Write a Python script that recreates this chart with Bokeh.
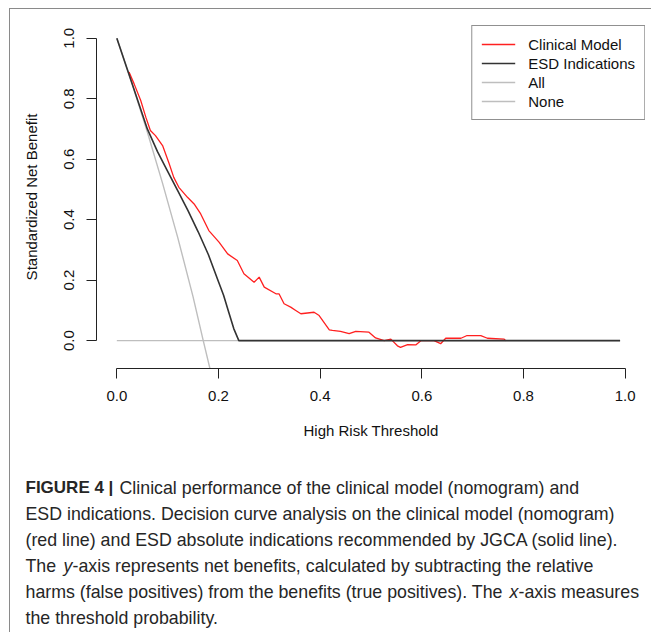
from bokeh.plotting import figure
from bokeh.models import Range1d, Legend, LegendItem, FixedTicker, PrintfTickFormatter, ColumnDataSource
from bokeh.layouts import column
from bokeh.embed import file_html
from bokeh.resources import INLINE
from bokeh.core.properties import value

# ---------------- data ----------------
thr_model = [0.024, 0.034, 0.047, 0.057, 0.066, 0.076, 0.090, 0.103, 0.112, 0.122,
             0.139, 0.152, 0.165, 0.181, 0.201, 0.218, 0.237, 0.250, 0.270, 0.280,
             0.290, 0.313, 0.319, 0.329, 0.342, 0.352, 0.362, 0.388, 0.398, 0.418,
             0.424, 0.440, 0.457, 0.470, 0.496, 0.509, 0.526, 0.539, 0.552, 0.558,
             0.572, 0.588, 0.598, 0.624, 0.637, 0.647, 0.677, 0.689, 0.716, 0.729,
             0.762, 0.765]
nb_model = [0.888, 0.849, 0.794, 0.739, 0.695, 0.678, 0.645, 0.585, 0.540, 0.507,
            0.474, 0.452, 0.419, 0.364, 0.326, 0.287, 0.265, 0.221, 0.193, 0.210,
            0.177, 0.155, 0.155, 0.122, 0.111, 0.100, 0.089, 0.094, 0.083, 0.036,
            0.034, 0.031, 0.023, 0.031, 0.028, 0.009, 0.000, 0.005, -0.017, -0.022,
            -0.013, -0.014, 0.000, 0.000, -0.010, 0.008, 0.008, 0.017, 0.017, 0.008,
            0.005, 0.000]

thr_esd = [0.0, 0.02, 0.04, 0.06, 0.08, 0.10, 0.12, 0.14, 0.16, 0.18, 0.20,
           0.21, 0.22, 0.23, 0.24, 0.99]
nb_esd = [1.0, 0.90, 0.80, 0.70, 0.625, 0.56, 0.495, 0.43, 0.36, 0.285, 0.195,
          0.15, 0.095, 0.04, 0.0, 0.0]

thr_all = [0.0, 0.03, 0.06, 0.09, 0.12, 0.15, 0.17, 0.19]
nb_all = [1.0, 0.85, 0.69, 0.52, 0.34, 0.145, 0.0, -0.14]

thr_none = [0.0, 0.99]
nb_none = [0.0, 0.0]

x_ticks = [0.0, 0.2, 0.4, 0.6, 0.8, 1.0]
y_ticks = [0.0, 0.2, 0.4, 0.6, 0.8, 1.0]
series_names = ["Clinical Model", "ESD Indications", "All", "None"]
x_title = "High Risk Threshold"
y_title = "Standardized Net Benefit"

caption_bold = "FIGURE 4 |"
caption_lines = [
    "Clinical performance of the clinical model (nomogram) and",
    "ESD indications. Decision curve analysis on the clinical model (nomogram)",
    "(red line) and ESD absolute indications recommended by JGCA (solid line).",
    "-axis represents net benefits, calculated by subtracting the relative",
    "-axis measures",
    "the threshold probability.",
]
caption_pre = ["The ", "harms (false positives) from the benefits (true positives). The "]
caption_italic = ["y", "x"]

FONT = "Liberation Sans"
RED = "#ff2020"
DARK = "#333333"
GRAY = "#bebebe"

# ---------------- chart ----------------
W = 641
H1 = 465
H2 = 158

p = figure(width=W, height=H1, x_range=Range1d(-0.04, 1.04), y_range=Range1d(-0.092, 1.042),
           output_backend="svg", toolbar_location=None,
           min_border_left=86, min_border_right=6, min_border_top=16, min_border_bottom=106)
p.frame_align = False
p.xgrid.visible = False
p.ygrid.visible = False
p.outline_line_color = None
p.background_fill_color = "white"
p.border_fill_color = "white"

r_none = p.line(thr_none, nb_none, line_color=GRAY, line_width=1.4)
r_all = p.line(thr_all, nb_all, line_color=GRAY, line_width=1.4)
r_model = p.line(thr_model, nb_model, line_color=RED, line_width=1.3)
r_esd = p.line(thr_esd, nb_esd, line_color=DARK, line_width=1.6)

for ax, ticks in ((p.xaxis, x_ticks), (p.yaxis, y_ticks)):
    ax.ticker = FixedTicker(ticks=ticks)
    ax.formatter = PrintfTickFormatter(format="%.1f")
    ax.bounds = (0, 1)
    ax.major_tick_out = 10
    ax.major_tick_in = 0
    ax.minor_tick_out = 0
    ax.minor_tick_in = 0
    ax.axis_line_color = "#222222"
    ax.major_tick_line_color = "#222222"
    ax.major_label_text_font = FONT
    ax.major_label_text_font_size = "15px"
    ax.major_label_text_color = "#111111"
    ax.axis_label_text_font = FONT
    ax.axis_label_text_font_size = "15px"
    ax.axis_label_text_font_style = "normal"
    ax.axis_label_text_color = "#111111"

p.xaxis.axis_label = x_title
p.yaxis.axis_label = y_title
p.xaxis.major_label_standoff = 12
p.xaxis.axis_label_standoff = 18
p.yaxis.major_label_orientation = "vertical"
p.yaxis.major_label_standoff = 12
p.yaxis.axis_label_standoff = 22

renderers = [r_model, r_esd, r_all, r_none]
legend = Legend(items=[LegendItem(label=n, renderers=[r]) for n, r in zip(series_names, renderers)],
                location="top_right", margin=0, padding=9, spacing=1,
                label_height=18, glyph_height=18, glyph_width=34, label_standoff=13,
                border_line_color="#222222", border_line_width=1,
                background_fill_color="white", background_fill_alpha=1,
                label_text_font=FONT, label_text_font_size="15px",
                label_text_color="#111111")
p.add_layout(legend)

# ---------------- caption (its own small canvas, pixel coordinates) ----------------
c = figure(width=W, height=H2, x_range=Range1d(0, W), y_range=Range1d(H2, 0),
           output_backend="svg", toolbar_location=None, min_border=0,
           x_axis_type=None, y_axis_type=None)
c.frame_align = False
c.xgrid.visible = False
c.ygrid.visible = False
c.outline_line_color = None
c.background_fill_color = "white"
c.border_fill_color = "white"

x0 = 15
line_y = [13, 39, 65, 91, 117, 143]

normal = ColumnDataSource(dict(x=[109, x0, x0, 62, 508, x0], y=line_y, text=caption_lines))
pre = ColumnDataSource(dict(x=[x0, x0], y=[line_y[3], line_y[4]], text=caption_pre))
ital = ColumnDataSource(dict(x=[53, 499], y=[line_y[3], line_y[4]], text=caption_italic))
bold = ColumnDataSource(dict(x=[x0], y=[line_y[0]], text=[caption_bold]))

common = dict(text_font=value(FONT), text_baseline="middle", text_align="left", text_color="#262626")
c.text(x="x", y="y", text="text", source=normal, text_font_size="17.8px", **common)
c.text(x="x", y="y", text="text", source=pre, text_font_size="17.8px", **common)
c.text(x="x", y="y", text="text", source=ital, text_font_size="17.8px", text_font_style="italic", **common)
c.text(x="x", y="y", text="text", source=bold, text_font_size="17px", text_font_style="bold", **common)

layout = column(p, c, spacing=0,
                styles={"margin-left": "9px", "margin-top": "8px",
                        "border-top": "1px solid #8a8a8a", "border-left": "1px solid #8a8a8a"})

open("out.html", "w").write(file_html(layout, INLINE))
